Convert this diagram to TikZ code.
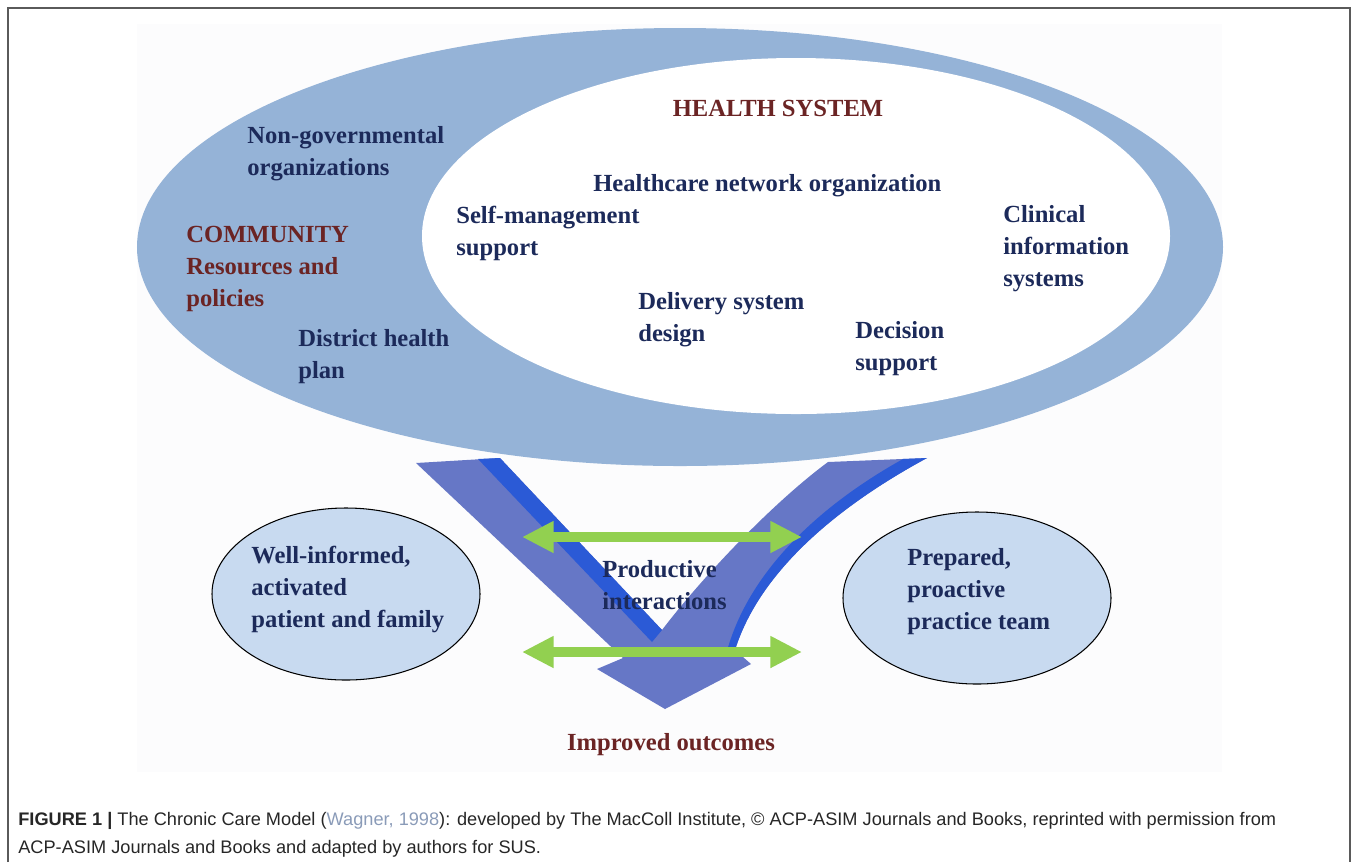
\documentclass[tikz,border=0pt]{standalone}
\usepackage{fontspec}
\setmainfont{Liberation Serif}
\newfontfamily\captionfont{Liberation Sans}
\usetikzlibrary{positioning,arrows.meta,shapes.geometric}

\definecolor{ringblue}{HTML}{95B3D7}
\definecolor{padblue}{HTML}{C8DAF0}
\definecolor{vblue}{HTML}{6677C6}
\definecolor{vedge}{HTML}{2B5AD6}
\definecolor{linkgreen}{HTML}{92D050}
\definecolor{navytext}{HTML}{1C2A5A}
\definecolor{maroontext}{HTML}{6B2424}
\definecolor{citegray}{HTML}{8A9BB8}
\definecolor{framegray}{HTML}{5A5A5A}
\definecolor{backdrop}{HTML}{FCFCFD}

\begin{document}
\begin{tikzpicture}[
        x=0.2mm, y=-0.2mm,
        txt/.style={
            font=\fontsize{14}{18}\selectfont\bfseries,
            text=navytext,
            align=left,
            inner sep=0pt,
            anchor=base west
        },
        head/.style={
            txt,
            text=maroontext
        },
        pad/.style={
            ellipse,
            draw=black,
            line width=0.6pt,
            fill=padblue,
            minimum width=53.6mm,
            minimum height=34.4mm,
            inner sep=0pt
        },
        link/.style={
            {Triangle[length=18pt,width=17pt]}-{Triangle[length=18pt,width=17pt]},
            line width=5.7pt,
            linkgreen
        }
    ]
    \useasboundingbox (0,0) rectangle (1358,862);

    % frame and faint backdrop
    \fill[backdrop] (137,24) rectangle (1222,772);
    \draw[framegray, line width=0.9pt] (8,862) -- (8,8) -- (1350,8) -- (1350,862);

    % community ring and health system
    \node[ellipse, fill=ringblue, minimum width=217.2mm, minimum height=87.6mm, inner sep=0pt] (community) at (680,247) {};
    \node[ellipse, fill=white, minimum width=149.6mm, minimum height=71.2mm, inner sep=0pt] (system) at (796,236) {};

    % the V
    \fill[vblue] (416,463) -- (500,458) -- (662,630)
        .. controls (700,580) and (770,505) .. (828,462) -- (927,458)
        .. controls (840,505) and (760,570) .. (735,650)
        -- (751,664) -- (665,709) -- (597,669) -- (623,658) -- cycle;
    \fill[vedge] (478,459) -- (500,458) -- (662,630) -- (652,642) -- cycle;
    \fill[vedge] (903,459) -- (927,458)
        .. controls (840,505) and (760,570) .. (735,650)
        -- (727,651) .. controls (750,568) and (824,503) .. (903,459) -- cycle;

    % patient and team
    \node[pad] (patient) at (346,594) {};
    \node[pad] (team) at (977,598) {};

    % interactions
    \coordinate (l1) at (522,537);
    \coordinate (r1) at (802,537);
    \coordinate (l2) at (522,652);
    \coordinate (r2) at (802,652);
    \draw[link] (l1) -- (r1);
    \draw[link] (l2) -- (r2);

    % labels (base = last line)
    \node[head, anchor=base] (hs) at (778,116) {HEALTH SYSTEM};
    \node[txt] (ngo) at (247,175) {Non-governmental\\organizations};
    \node[txt] (hno) at (593,191) {Healthcare network organization};
    \node[txt] (sms) at (456,255) {Self-management\\support};
    \node[txt] (cis) at (1003,286) {Clinical\\information\\systems};
    \node[head] (comm) at (186,306) {COMMUNITY\\Resources and\\policies};
    \node[txt] (dsd) at (638,341) {Delivery system\\design};
    \node[txt] (dec) at (855,370) {Decision\\support};
    \node[txt] (dhp) at (298,378) {District health\\plan};
    \node[txt] (pat) at (251,627) {Well-informed,\\activated\\patient and family};
    \node[txt] (prep) at (907,629) {Prepared,\\proactive\\practice team};
    \node[txt] (prod) at (602,609) {Productive\\interactions};
    \node[head, anchor=base] (out) at (671,750) {Improved outcomes};

    % caption
    \node[inner sep=0pt, anchor=base west, align=left,
          font=\captionfont\fontsize{10.35}{15.9}\selectfont, text=black!85] (cap) at (18,853)
        {\textbf{FIGURE 1 |} The Chronic Care Model (\textcolor{citegray}{Wagner, 1998}): developed by The MacColl Institute, © ACP-ASIM Journals and Books, reprinted with permission from\\ACP-ASIM Journals and Books and adapted by authors for SUS.};
\end{tikzpicture}
\end{document}
